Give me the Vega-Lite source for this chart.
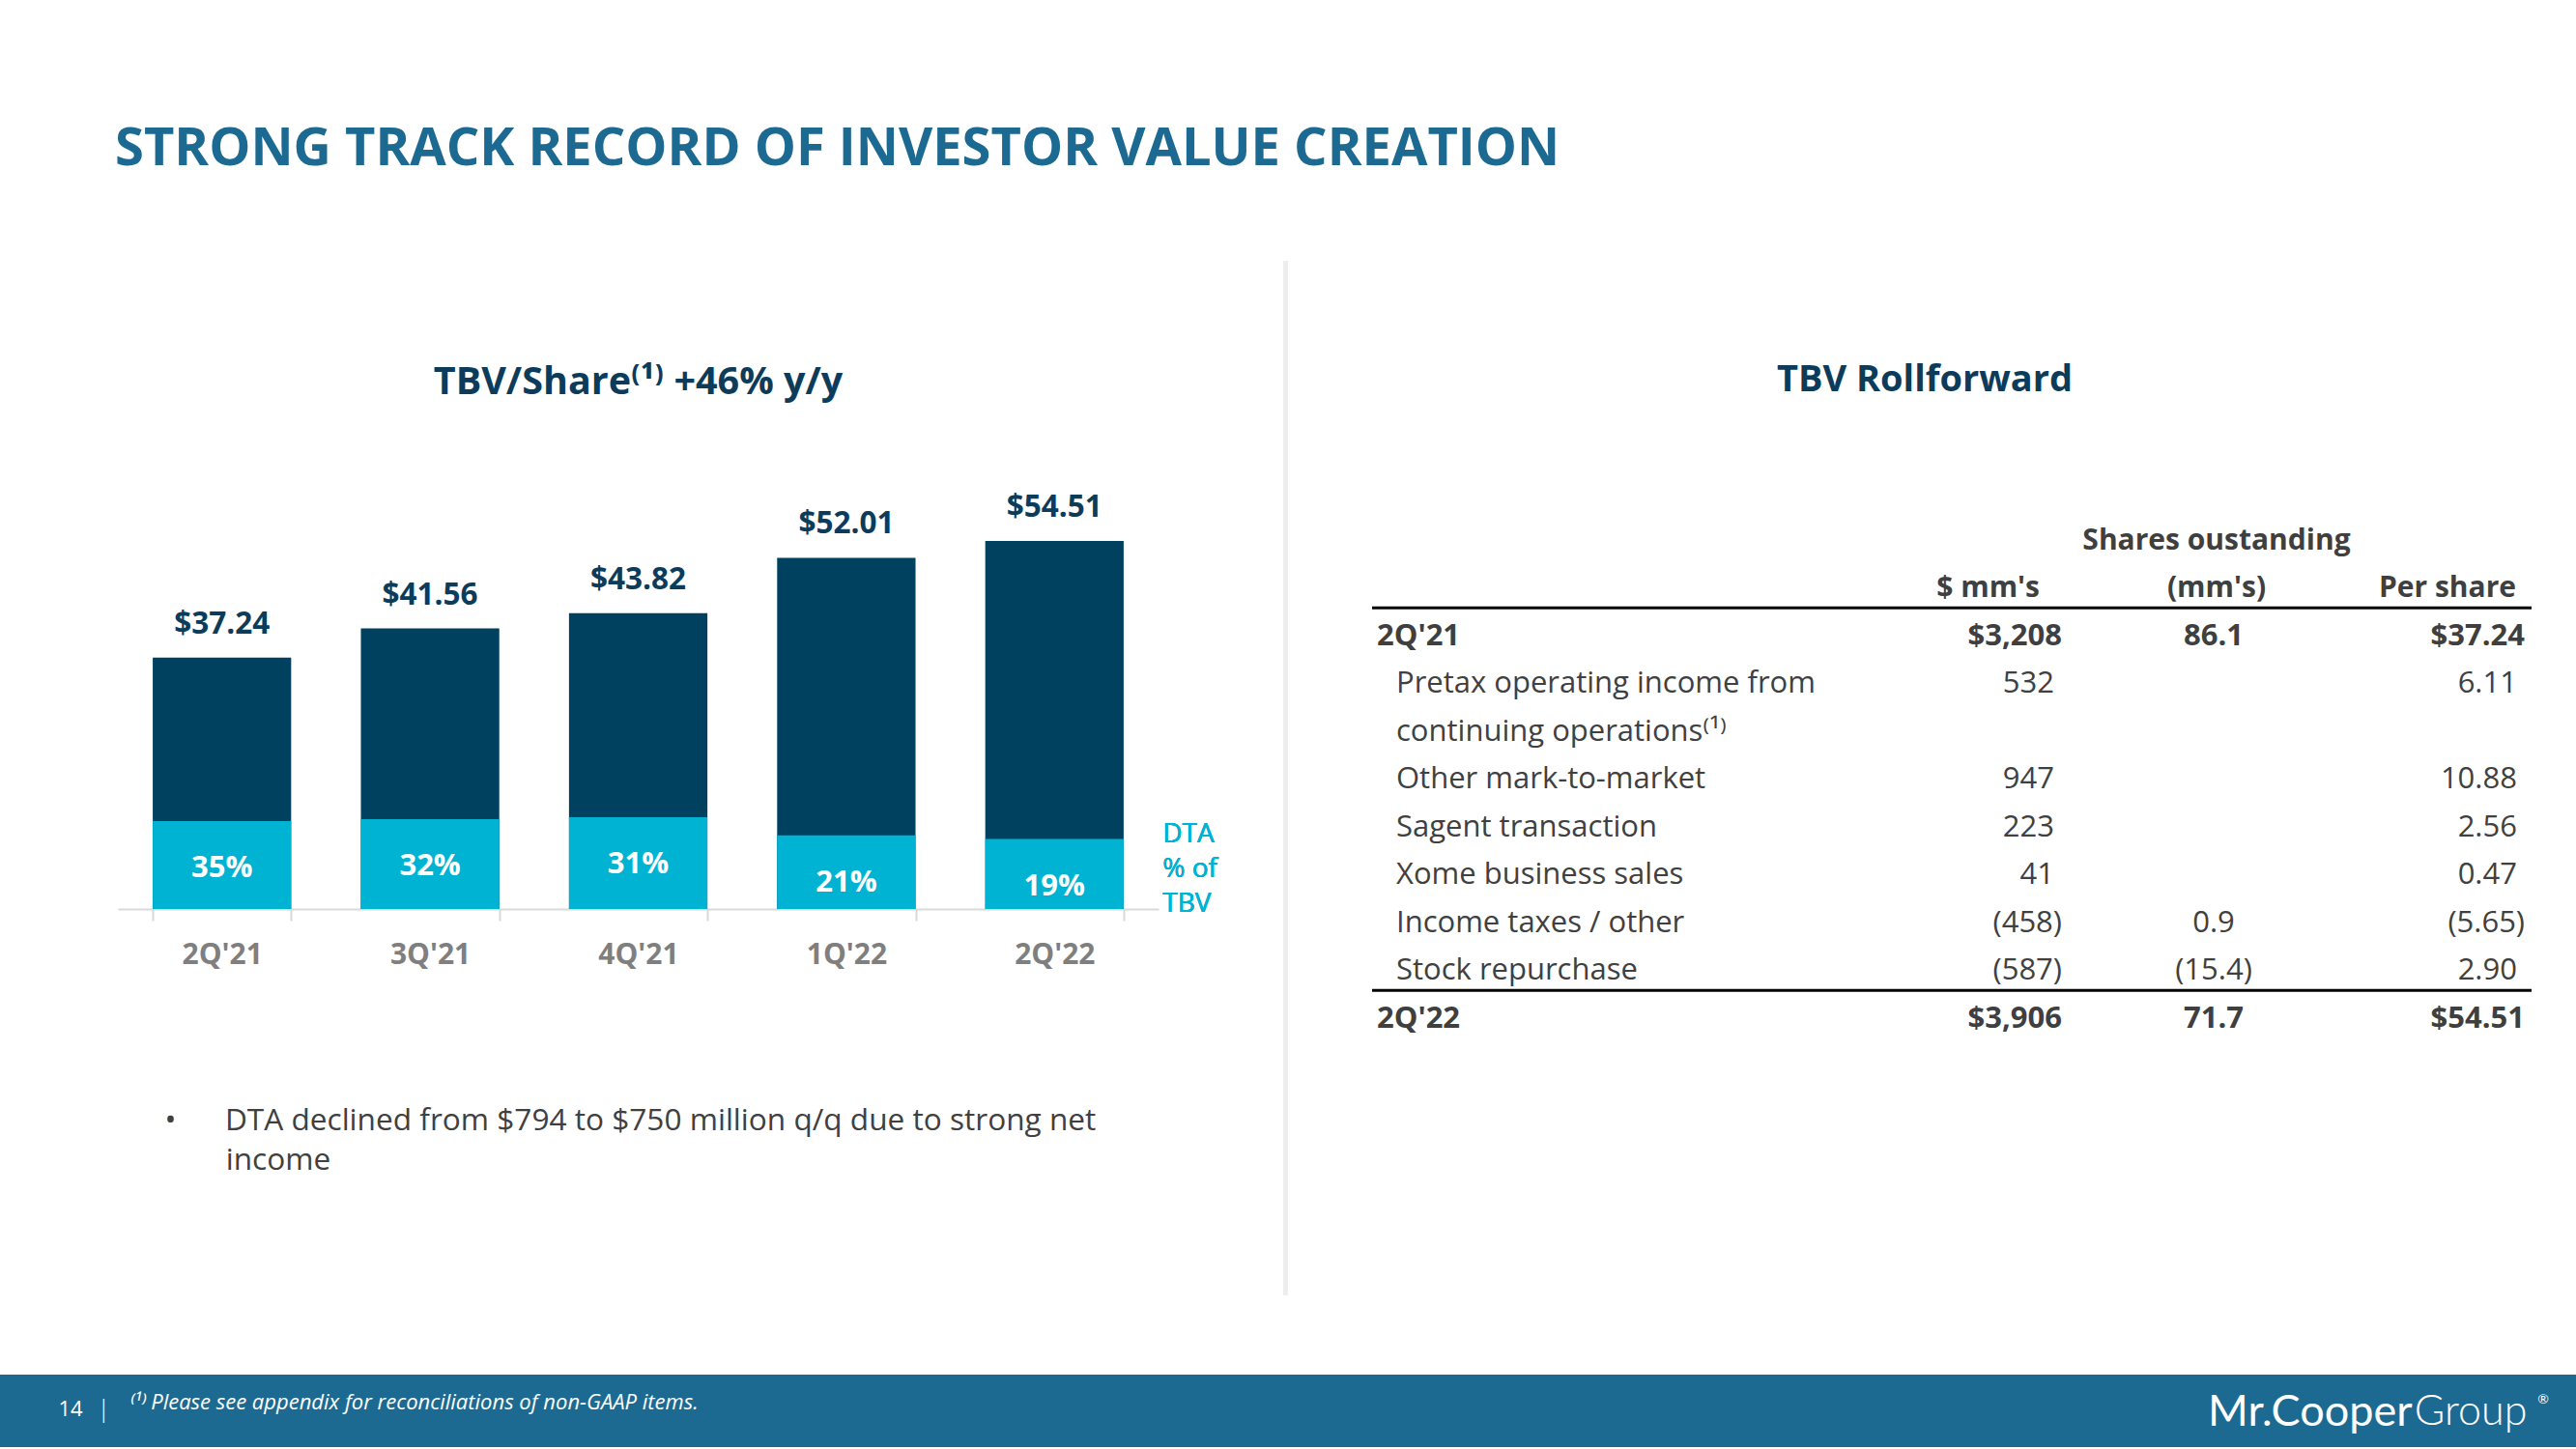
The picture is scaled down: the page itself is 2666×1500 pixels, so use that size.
{
  "$schema": "https://vega.github.io/schema/vega-lite/v6.json",
  "background": "white",
  "padding": {"left": 0, "top": 127, "right": 0, "bottom": 0},
  "title": {"text": "STRONG TRACK RECORD OF INVESTOR VALUE CREATION", "anchor": "start", "dx": 119, "offset": 45, "baseline": "alphabetic", "fontSize": 54.3, "fontWeight": "bold", "color": "#1C6A92", "font": "Open Sans"},
  "spacing": 82,
  "config": {"view": {"stroke": null}, "font": "Open Sans"},
  "vconcat": [
    {
      "spacing": 48,
      "hconcat": [
        {
          "width": 74,
          "height": 10,
          "data": {"values": [{}]},
          "mark": {"type": "rect", "opacity": 0},
          "encoding": {}
        },
        {
          "width": 1077,
          "height": 671,
          "title": {"text": "TBV/Share\u207d\u00b9\u207e +46% y/y", "anchor": "middle", "frame": "group", "baseline": "alphabetic", "offset": -177, "fontSize": 39.5, "fontWeight": "bold", "color": "#0D3C5B", "font": "Open Sans"},
          "data": {"values": [
            {"quarter": "2Q'21", "tbv": 37.24, "dta": 13.03, "pct": 0.35},
            {"quarter": "3Q'21", "tbv": 41.56, "dta": 13.30, "pct": 0.32},
            {"quarter": "4Q'21", "tbv": 43.82, "dta": 13.58, "pct": 0.31},
            {"quarter": "1Q'22", "tbv": 52.01, "dta": 10.92, "pct": 0.21},
            {"quarter": "2Q'22", "tbv": 54.51, "dta": 10.36, "pct": 0.19}
          ]},
          "encoding": {
            "x": {"field": "quarter", "type": "nominal", "sort": null,
              "scale": {"type": "band", "paddingInner": 0.335, "paddingOuter": 0.1675},
              "axis": {
                "labelAngle": 0, "labelFontSize": 30, "labelFontWeight": "bold", "labelColor": "#7F7F7F", "labelFont": "Open Sans", "labelPadding": 20,
                "tickBand": "extent", "tickSize": 12, "tickColor": "#D9D9D9", "tickWidth": 2,
                "domainColor": "#D9D9D9", "domainWidth": 2, "grid": false,
                "title": ["\u2022\u2003\u2002\u200aDTA declined from $794 to $750 million q/q due to strong net", "\u2060\u2003\u2003income"],
                "titleX": 48, "titleY": 203, "titleAlign": "left", "titleAnchor": "start", "titleBaseline": "top",
                "titleFontSize": 31.6, "titleFontWeight": "normal", "titleColor": "#404040", "titleFont": "Open Sans", "titleLineHeight": 41
              }
            }
          },
          "layer": [
            {
              "mark": {"type": "bar", "color": "#00415F"},
              "encoding": {"y": {"field": "tbv", "type": "quantitative", "scale": {"domain": [0, 96], "nice": false, "zero": true}, "axis": null}}
            },
            {
              "mark": {"type": "bar", "color": "#00B3D3"},
              "encoding": {"y": {"field": "dta", "type": "quantitative",
                "axis": {"orient": "right", "labels": false, "ticks": false, "domain": false, "grid": false, "title": null, "minExtent": 81, "maxExtent": 81}}}
            },
            {
              "mark": {"type": "text", "baseline": "alphabetic", "dy": -25, "fontSize": 31.5, "fontWeight": "bold", "color": "#0D3C5B", "font": "Open Sans"},
              "encoding": {"y": {"field": "tbv", "type": "quantitative", "axis": null}, "text": {"field": "tbv", "type": "quantitative", "format": "$.2f"}}
            },
            {
              "mark": {"type": "text", "baseline": "middle", "dy": 49, "fontSize": 31, "fontWeight": "bold", "color": "white", "font": "Open Sans"},
              "encoding": {"y": {"field": "dta", "type": "quantitative", "axis": null}, "text": {"field": "pct", "type": "quantitative", "format": ".0%"}}
            },
            {
              "mark": {"type": "text", "align": "left", "baseline": "bottom", "dx": 112, "dy": -63, "fontSize": 28, "color": "#00B3D3", "lineHeight": 36, "font": "Open Sans"},
              "encoding": {"x": {"datum": "2Q'22", "type": "nominal"}, "y": {"datum": 0, "type": "quantitative", "axis": null}, "text": {"value": ["DTA", "% of", "TBV"]}}
            }
          ],
          "resolve": {"axis": {"y": "independent"}}
        },
        {
          "width": 5,
          "height": 1071,
          "view": {"fill": "#EEEEEE", "stroke": null},
          "data": {"values": [{}]},
          "mark": {"type": "rect", "color": "#EEEEEE"},
          "encoding": {}
        },
        {
          "width": 1200,
          "height": 1071,
          "title": {"text": "TBV Rollforward", "anchor": "middle", "frame": "group", "baseline": "alphabetic", "offset": -173, "dx": -28, "fontSize": 38, "fontWeight": "bold", "color": "#0D3C5B", "font": "Open Sans"},
          "data": {"values": [
            {"row": "h1", "col": "shares", "text": "Shares oustanding"},
            {"row": "h2", "col": "mm", "text": "$ mm's"},
            {"row": "h2", "col": "shares", "text": "(mm's)"},
            {"row": "h2", "col": "pershare", "text": "Per share"},
            {"row": "r1", "col": "label", "text": "2Q'21"},
            {"row": "r1", "col": "mm", "text": "$3,208"},
            {"row": "r1", "col": "shares", "text": "86.1"},
            {"row": "r1", "col": "pershare", "text": "$37.24"},
            {"row": "r2", "col": "label", "text": "Pretax operating income from"},
            {"row": "r2", "col": "mm", "text": "532\u00a0\u2060"},
            {"row": "r2", "col": "pershare", "text": "6.11\u00a0\u2060"},
            {"row": "r2b", "col": "label", "text": "continuing operations\u207d\u00b9\u207e"},
            {"row": "r3", "col": "label", "text": "Other mark-to-market"},
            {"row": "r3", "col": "mm", "text": "947\u00a0\u2060"},
            {"row": "r3", "col": "pershare", "text": "10.88\u00a0\u2060"},
            {"row": "r4", "col": "label", "text": "Sagent transaction"},
            {"row": "r4", "col": "mm", "text": "223\u00a0\u2060"},
            {"row": "r4", "col": "pershare", "text": "2.56\u00a0\u2060"},
            {"row": "r5", "col": "label", "text": "Xome business sales"},
            {"row": "r5", "col": "mm", "text": "41\u00a0\u2060"},
            {"row": "r5", "col": "pershare", "text": "0.47\u00a0\u2060"},
            {"row": "r6", "col": "label", "text": "Income taxes / other"},
            {"row": "r6", "col": "mm", "text": "(458)"},
            {"row": "r6", "col": "shares", "text": "0.9"},
            {"row": "r6", "col": "pershare", "text": "(5.65)"},
            {"row": "r7", "col": "label", "text": "Stock repurchase"},
            {"row": "r7", "col": "mm", "text": "(587)"},
            {"row": "r7", "col": "shares", "text": "(15.4)"},
            {"row": "r7", "col": "pershare", "text": "2.90\u00a0\u2060"},
            {"row": "r8", "col": "label", "text": "2Q'22"},
            {"row": "r8", "col": "mm", "text": "$3,906"},
            {"row": "r8", "col": "shares", "text": "71.7"},
            {"row": "r8", "col": "pershare", "text": "$54.51"}
          ]},
          "encoding": {
            "y": {"field": "row", "type": "nominal",
              "scale": {"type": "band", "domain": ["pad1", "pad2", "pad3", "pad4", "pad5", "h1", "h2", "r1", "r2", "r2b", "r3", "r4", "r5", "r6", "r7", "r8", "pad6", "pad7", "pad8", "pad9", "pad10"], "paddingInner": 0, "paddingOuter": 0.318, "align": 0.402},
              "axis": {"labels": false, "ticks": false, "domain": false, "grid": false, "title": null, "minExtent": 39, "maxExtent": 39}}
          },
          "layer": [
            {
              "data": {"values": [{"row": "r1"}, {"row": "r8"}]},
              "mark": {"type": "rule", "color": "#000000", "strokeWidth": 3},
              "encoding": {"y": {"field": "row", "type": "nominal", "bandPosition": 0}}
            },
            {
              "transform": [{"filter": {"and": [{"field": "col", "equal": "label"}, {"field": "row", "oneOf": ["r1", "r8"]}]}}],
              "mark": {"type": "text", "align": "left", "baseline": "middle", "dx": 5, "dy": 5, "fontSize": 31, "fontWeight": "bold", "color": "#3F3F3F", "font": "Open Sans"},
              "encoding": {"x": {"field": "col", "type": "nominal", "scale": {"type": "point", "domain": ["label", "mm", "shares", "pershare"], "padding": 0}, "axis": null}, "text": {"field": "text"}}
            },
            {
              "transform": [{"filter": {"and": [{"field": "col", "equal": "label"}, {"not": {"field": "row", "oneOf": ["r1", "r8"]}}]}}],
              "mark": {"type": "text", "align": "left", "baseline": "middle", "dx": 25, "dy": 5, "fontSize": 31, "color": "#404040", "font": "Open Sans"},
              "encoding": {"x": {"field": "col", "type": "nominal"}, "text": {"field": "text"}}
            },
            {
              "transform": [{"filter": {"and": [{"field": "col", "equal": "mm"}, {"field": "row", "equal": "h2"}]}}],
              "mark": {"type": "text", "align": "right", "baseline": "middle", "dx": 291, "dy": 5, "fontSize": 30, "fontWeight": "bold", "color": "#3F3F3F", "font": "Open Sans"},
              "encoding": {"x": {"field": "col", "type": "nominal"}, "text": {"field": "text"}}
            },
            {
              "transform": [{"filter": {"and": [{"field": "col", "equal": "shares"}, {"field": "row", "oneOf": ["h1", "h2"]}]}}],
              "mark": {"type": "text", "align": "center", "baseline": "middle", "dx": 74, "dy": 5, "fontSize": 30, "fontWeight": "bold", "color": "#3F3F3F", "font": "Open Sans"},
              "encoding": {"x": {"field": "col", "type": "nominal"}, "text": {"field": "text"}}
            },
            {
              "transform": [{"filter": {"and": [{"field": "col", "equal": "pershare"}, {"field": "row", "equal": "h2"}]}}],
              "mark": {"type": "text", "align": "right", "baseline": "middle", "dx": -16, "dy": 5, "fontSize": 30, "fontWeight": "bold", "color": "#3F3F3F", "font": "Open Sans"},
              "encoding": {"x": {"field": "col", "type": "nominal"}, "text": {"field": "text"}}
            },
            {
              "transform": [{"filter": {"and": [{"field": "col", "equal": "mm"}, {"field": "row", "oneOf": ["r1", "r8"]}]}}],
              "mark": {"type": "text", "align": "right", "baseline": "middle", "dx": 314, "dy": 5, "fontSize": 31, "fontWeight": "bold", "color": "#3F3F3F", "font": "Open Sans"},
              "encoding": {"x": {"field": "col", "type": "nominal"}, "text": {"field": "text"}}
            },
            {
              "transform": [{"filter": {"and": [{"field": "col", "equal": "mm"}, {"not": {"field": "row", "oneOf": ["h2", "r1", "r8"]}}]}}],
              "mark": {"type": "text", "align": "right", "baseline": "middle", "dx": 314, "dy": 5, "fontSize": 31, "color": "#404040", "font": "Open Sans"},
              "encoding": {"x": {"field": "col", "type": "nominal"}, "text": {"field": "text"}}
            },
            {
              "transform": [{"filter": {"and": [{"field": "col", "equal": "shares"}, {"field": "row", "oneOf": ["r1", "r8"]}]}}],
              "mark": {"type": "text", "align": "center", "baseline": "middle", "dx": 71, "dy": 5, "fontSize": 31, "fontWeight": "bold", "color": "#3F3F3F", "font": "Open Sans"},
              "encoding": {"x": {"field": "col", "type": "nominal"}, "text": {"field": "text"}}
            },
            {
              "transform": [{"filter": {"and": [{"field": "col", "equal": "shares"}, {"field": "row", "oneOf": ["r6", "r7"]}]}}],
              "mark": {"type": "text", "align": "center", "baseline": "middle", "dx": 71, "dy": 5, "fontSize": 31, "color": "#404040", "font": "Open Sans"},
              "encoding": {"x": {"field": "col", "type": "nominal"}, "text": {"field": "text"}}
            },
            {
              "transform": [{"filter": {"and": [{"field": "col", "equal": "pershare"}, {"field": "row", "oneOf": ["r1", "r8"]}]}}],
              "mark": {"type": "text", "align": "right", "baseline": "middle", "dx": -7, "dy": 5, "fontSize": 31, "fontWeight": "bold", "color": "#3F3F3F", "font": "Open Sans"},
              "encoding": {"x": {"field": "col", "type": "nominal"}, "text": {"field": "text"}}
            },
            {
              "transform": [{"filter": {"and": [{"field": "col", "equal": "pershare"}, {"not": {"field": "row", "oneOf": ["h2", "r1", "r8"]}}]}}],
              "mark": {"type": "text", "align": "right", "baseline": "middle", "dx": -7, "dy": 5, "fontSize": 31, "color": "#404040", "font": "Open Sans"},
              "encoding": {"x": {"field": "col", "type": "nominal"}, "text": {"field": "text"}}
            }
          ]
        }
      ]
    },
    {
      "width": 2666,
      "height": 75,
      "view": {"fill": "#1C6A92", "stroke": null},
      "data": {"values": [
        {"item": "page", "text": "14"},
        {"item": "bar", "text": "|"},
        {"item": "note", "text": "\u207d\u00b9\u207e Please see appendix for reconciliations of non-GAAP items."},
        {"item": "brand", "text": "Mr.Cooper"},
        {"item": "group", "text": "Group"},
        {"item": "reg", "text": "\u00ae"}
      ]},
      "encoding": {
        "x": {"field": "item", "type": "nominal", "scale": {"type": "point", "domain": ["page", "bar", "note", "brand", "group", "reg"], "padding": 0}, "axis": null},
        "text": {"field": "text"}
      },
      "layer": [
        {"transform": [{"filter": {"field": "item", "equal": "page"}}], "mark": {"type": "text", "align": "center", "baseline": "middle", "dx": 73, "dy": -2, "fontSize": 22, "color": "white", "font": "Open Sans"}},
        {"transform": [{"filter": {"field": "item", "equal": "bar"}}], "mark": {"type": "text", "align": "center", "baseline": "middle", "dx": -426, "dy": -2, "fontSize": 26, "fontWeight": 300, "color": "white", "font": "Open Sans"}},
        {"transform": [{"filter": {"field": "item", "equal": "note"}}], "mark": {"type": "text", "align": "left", "baseline": "middle", "dx": -932, "dy": -9, "fontSize": 22, "fontStyle": "italic", "color": "white", "font": "Open Sans"}},
        {"transform": [{"filter": {"field": "item", "equal": "brand"}}], "mark": {"type": "text", "align": "right", "baseline": "middle", "dx": 897, "dy": 1, "fontSize": 45, "color": "white", "font": "Lato"}},
        {"transform": [{"filter": {"field": "item", "equal": "group"}}], "mark": {"type": "text", "align": "left", "baseline": "middle", "dx": 366, "dy": 1, "fontSize": 43, "fontWeight": 300, "color": "white", "font": "Lato"}},
        {"transform": [{"filter": {"field": "item", "equal": "reg"}}], "mark": {"type": "text", "align": "right", "baseline": "middle", "dx": -28, "dy": -12, "fontSize": 14, "color": "white", "font": "Lato"}}
      ]
    }
  ]
}
